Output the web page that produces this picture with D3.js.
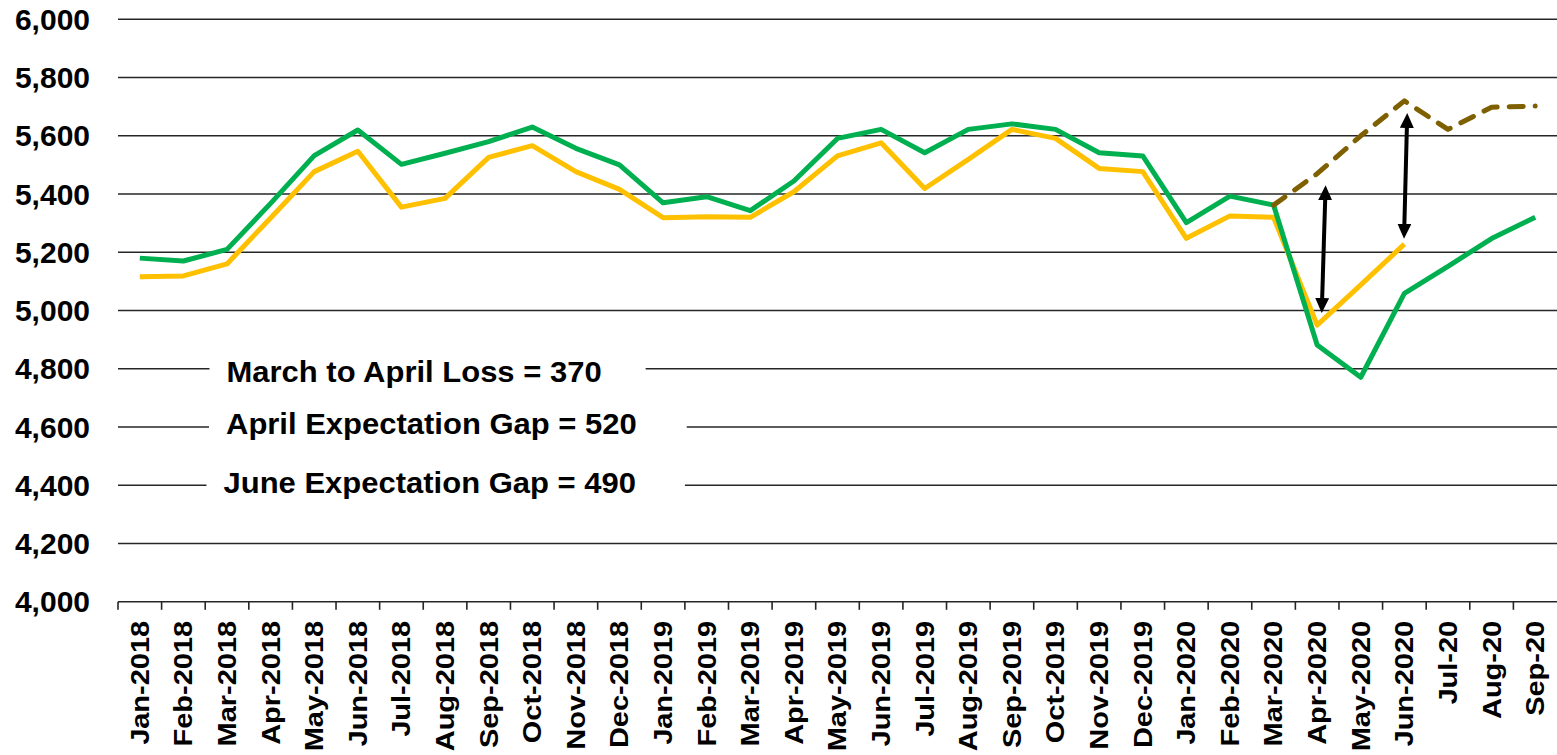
<!DOCTYPE html>
<html><head><meta charset="utf-8">
<script src="https://cdn.jsdelivr.net/npm/d3@7/dist/d3.min.js"></script>
<style>
body{margin:0;background:#fff}
svg{display:block}
text{font-family:"Liberation Sans",Arial,sans-serif;font-weight:bold;fill:#000}
</style>
</head><body>
<svg id="chart" width="1557" height="755"></svg>
<script>
// ---------------- data ----------------
const categories = ["Jan-2018","Feb-2018","Mar-2018","Apr-2018","May-2018","Jun-2018","Jul-2018","Aug-2018","Sep-2018","Oct-2018","Nov-2018","Dec-2018",
  "Jan-2019","Feb-2019","Mar-2019","Apr-2019","May-2019","Jun-2019","Jul-2019","Aug-2019","Sep-2019","Oct-2019","Nov-2019","Dec-2019",
  "Jan-2020","Feb-2020","Mar-2020","Apr-2020","May-2020","Jun-2020","Jul-20","Aug-20","Sep-20"];
const actualValues = [5180,5170,5210,5368,5532,5620,5502,5540,5580,5630,5557,5500,
  5370,5391,5343,5445,5591,5622,5542,5622,5641,5622,5542,5531,
  5302,5393,5362,4882,4771,5059,5152,5247,5320];
const expectedValues = [5116,5119,5160,5318,5477,5547,5355,5385,5526,5566,5477,5416,
  5319,5322,5320,5408,5531,5576,5419,5519,5622,5591,5488,5477,
  5248,5325,5320,4950,5088,5228];
const forecastCategories = ["Mar-2020","Apr-2020","May-2020","Jun-2020","Jul-20","Aug-20","Sep-20"];
const forecastValues = [5362,5470,5600,5720,5622,5698,5702];
const yTickValues = [4000,4200,4400,4600,4800,5000,5200,5400,5600,5800,6000];
const annotationTexts = ["March to April Loss = 370","April Expectation Gap = 520","June Expectation Gap = 490"];
const annotationLevels = [4800,4600,4400];
const gapCategories = ["Apr-2020","Jun-2020"];
const gapLow = [4990,5245];
const gapHigh = [5432,5680];

// ---------------- layout ----------------
const svg = d3.select("#chart");
const plotLeft = 118, plotRight = 1557, plotTop = 19.3, plotBottom = 601.8;
const x = d3.scaleBand().domain(categories).range([plotLeft, plotRight]);
const y = d3.scaleLinear().domain([4000, 6000]).range([plotBottom, plotTop]);
const bw = x.bandwidth();
const cx = c => x(c) + bw / 2;

// gridlines
svg.append("g").selectAll("line").data(yTickValues.filter(v => v > 4000)).join("line")
  .attr("x1", plotLeft).attr("x2", plotRight)
  .attr("y1", d => y(d)).attr("y2", d => y(d))
  .attr("stroke", "#262626").attr("stroke-width", 1.4);

// y tick labels
svg.append("g").selectAll("text").data(yTickValues).join("text")
  .attr("x", 90).attr("y", d => y(d)).attr("dy", "0.35em")
  .attr("text-anchor", "end").attr("font-size", 30)
  .text(d => d3.format(",")(d));

// x axis
const xa = svg.append("g");
xa.append("line").attr("x1", plotLeft).attr("x2", plotRight)
  .attr("y1", y(4000)).attr("y2", y(4000)).attr("stroke", "#262626").attr("stroke-width", 1.6);
xa.selectAll("line.tick").data(categories).join("line").attr("class", "tick")
  .attr("x1", d => x(d)).attr("x2", d => x(d))
  .attr("y1", y(4000)).attr("y2", y(4000) + 8)
  .attr("stroke", "#262626").attr("stroke-width", 1.6);
xa.selectAll("text").data(categories).join("text")
  .attr("transform", d => `translate(${cx(d)},${y(4000) + 19}) rotate(-90) scale(1,0.88)`)
  .attr("text-anchor", "end").attr("dy", "0.35em").attr("font-size", 29)
  .text(d => d);

// annotations with white boxes
const ann = svg.append("g");
const annBaseOffset = [13.5, 7, 8];
const annX = [226.5, 226, 223.5];
const annPadRight = [44, 50, 49];
annotationTexts.forEach((t, i) => {
  const g = ann.append("g");
  const rect = g.append("rect").attr("fill", "#fff");
  const baseY = y(annotationLevels[i]) + annBaseOffset[i];
  const txt = g.append("text")
    .attr("transform", `translate(${annX[i]},${baseY}) scale(1,0.93)`)
    .attr("font-size", 31).text(t);
  const w = txt.node().getComputedTextLength();
  rect.attr("x", annX[i] - 17).attr("width", w + 17 + annPadRight[i])
    .attr("y", y(annotationLevels[i]) - 22).attr("height", 44);
});

// lines
const line = d3.line().x(d => cx(d[0])).y(d => y(d[1]));
svg.append("path").datum(d3.zip(categories.slice(0, expectedValues.length), expectedValues))
  .attr("d", line).attr("fill", "none").attr("stroke", "#FFC000").attr("stroke-width", 5)
  .attr("stroke-linejoin", "round");
svg.append("path").datum(d3.zip(categories, actualValues))
  .attr("d", line).attr("fill", "none").attr("stroke", "#00B050").attr("stroke-width", 5)
  .attr("stroke-linejoin", "round");
svg.append("path").datum(d3.zip(forecastCategories, forecastValues))
  .attr("d", line).attr("fill", "none").attr("stroke", "#7F6000").attr("stroke-width", 5)
  .attr("stroke-dasharray", "14,12").attr("stroke-linecap", "round").attr("stroke-linejoin", "round");

// arrows
const defs = svg.append("defs");
defs.append("marker").attr("id", "ah").attr("viewBox", "0 0 15 14")
  .attr("markerUnits", "userSpaceOnUse").attr("markerWidth", 15).attr("markerHeight", 14)
  .attr("refX", 0.5).attr("refY", 7).attr("orient", "auto-start-reverse")
  .append("path").attr("d", "M0,0 L15,7 L0,14 Z").attr("fill", "#000");
const arrowOffsets = [[5, 8], [0, 2.5]];
gapCategories.forEach((c, i) => {
  svg.append("line")
    .attr("x1", cx(c) + arrowOffsets[i][0]).attr("y1", y(gapLow[i]) - 15)
    .attr("x2", cx(c) + arrowOffsets[i][1]).attr("y2", y(gapHigh[i]) + 15)
    .attr("stroke", "#000").attr("stroke-width", 4)
    .attr("marker-start", "url(#ah)").attr("marker-end", "url(#ah)");
});
</script>
</body></html>
